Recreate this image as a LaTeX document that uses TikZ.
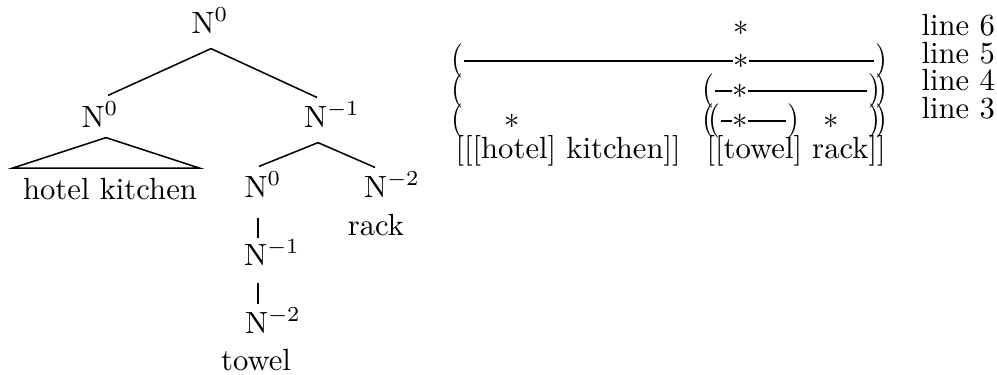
\documentclass[tikz,border=0pt]{standalone}
\usepackage{graphicx}
\usetikzlibrary{calc}
\newcommand{\tallparen}[1]{\scalebox{1}[1.12]{#1}}

\begin{document}
\begin{tikzpicture}[x=0.01146cm, y=-0.01146cm, every node/.style={inner sep=0pt}, branch/.style={line width=0.5pt}, gridrule/.style={line width=0.35pt}]
  \useasboundingbox (0,0) rectangle (997,374);
  % tree
  \node[anchor=base] (root) at (210,33) {$\mathrm{N}^{0}$};
  \node[anchor=base] (hotelN) at (100,127) {$\mathrm{N}^{0}$};
  \node[anchor=base] (compN) at (332,127) {$\mathrm{N}^{-1}$};
  \node[anchor=base] (hk) at (110,199) {hotel kitchen};
  \node[anchor=base] (towelN) at (263,197) {$\mathrm{N}^{0}$};
  \node[anchor=base] (rackN) at (392,197) {$\mathrm{N}^{-2}$};
  \node[anchor=base] (rack) at (376,235) {rack};
  \node[anchor=base] (towelNa) at (272,265) {$\mathrm{N}^{-1}$};
  \node[anchor=base] (towelNb) at (273,333) {$\mathrm{N}^{-2}$};
  \node[anchor=base] (towel) at (256,370) {towel};
  \draw[branch] ($(root.south)+(1,15)$) -- ($(hotelN.north)+(8,-6)$);
  \draw[branch] ($(root.south)+(1,15)$) -- ($(compN.north)+(-15,-4)$);
  \draw[branch] ($(hotelN.south)+(6,10)$) -- ($(hk.north west)+(-10,-9)$) -- ($(hk.north east)+(2,-9)$) -- cycle;
  \draw[branch] ($(compN.south)+(-14,15)$) -- ($(towelN.north)+(-4,-5)$);
  \draw[branch] ($(compN.south)+(-14,15)$) -- ($(rackN.north)+(-17,-4)$);
  \draw[branch] ($(towelN.south)+(-5,20)$) -- ($(towelNa.north)+(-14,-1)$);
  \draw[branch] ($(towelNa.south)+(-14,17)$) -- ($(towelNb.north)+(-15,-3)$);
  % metrical grid
  \node (s6) at (741,28) {$\ast$};
  \node (s5) at (741,61) {$\ast$};
  \node (s4) at (740,91) {$\ast$};
  \node (s3) at (740,121) {$\ast$};
  \node (s3hotel) at (512,121) {$\ast$};
  \node (s3rack) at (831,121) {$\ast$};
  \node (pl5) at (457,61) {\tallparen{(}};
  \node (pl4) at (457,91) {\tallparen{(}};
  \node (pl3) at (457,121) {\tallparen{(}};
  \node (pm4) at (708,91) {\tallparen{(}};
  \node (pm3a) at (708,121) {\tallparen{(}};
  \node (pm3b) at (714,121) {\tallparen{(}};
  \node (pc3) at (793,121) {\tallparen{)}};
  \node (pr5) at (881,61) {\tallparen{)}};
  \node (pr4a) at (874,91) {\tallparen{)}};
  \node (pr4b) at (881,91) {\tallparen{)}};
  \node (pr3a) at (874,121) {\tallparen{)}};
  \node (pr3b) at (881,121) {\tallparen{)}};
  \draw[gridrule] (pl5.east) -- (s5.west);
  \draw[gridrule] (s5.east) -- (pr5.west);
  \draw[gridrule] (pm4.east) -- (s4.west);
  \draw[gridrule] (s4.east) -- (pr4a.west);
  \draw[gridrule] (pm3b.east) -- (s3.west);
  \draw[gridrule] (s3.east) -- (pc3.west);
  \node[anchor=base west] (kitchenrow) at (455,158) {[[[hotel] kitchen]]};
  \node[anchor=base west] (rackrow) at (706,158) {[[towel] rack]]};
  \node[anchor=base west] (line6) at (921,35) {line 6};
  \node[anchor=base west] (line5) at (921,63) {line 5};
  \node[anchor=base west] (line4) at (921,90) {line 4};
  \node[anchor=base west] (line3) at (921,118) {line 3};
\end{tikzpicture}
\end{document}
